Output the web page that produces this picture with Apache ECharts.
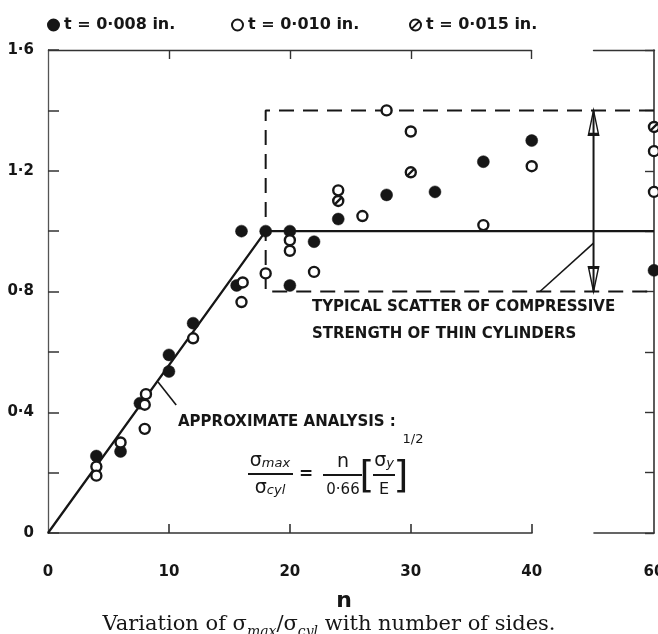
<!DOCTYPE html>
<html>
<head>
<meta charset="utf-8">
<script src="https://cdn.jsdelivr.net/npm/echarts@6/dist/echarts.min.js"></script>
<style>
html,body{margin:0;padding:0;background:#fff;}
#chart{width:658px;height:634px;}
</style>
</head>
<body>
<div id="chart"></div>
<script>
// ---- data ----
const xTickLabels = [0, 10, 20, 30, 40, 60];
const xTickMarks = [10, 20, 30, 40];
const yTickLabels = [0, 0.4, 0.8, 1.2, 1.6];

const seriesNames = ['t = 0·008 in.', 't = 0·010 in.', 't = 0·015 in.'];

// t = 0.008 in. (filled circles)
const t008 = [
  [4, 0.255], [6, 0.27], [7.6, 0.43], [10, 0.59], [10, 0.535], [12, 0.695],
  [15.6, 0.82], [16, 1.0], [18, 1.0], [20, 1.0], [20, 0.82], [22, 0.965],
  [24, 1.04], [28, 1.12], [32, 1.13], [36, 1.23], [40, 1.30], [60, 0.87]
];
// t = 0.010 in. (open circles)
const t010 = [
  [4, 0.22], [4, 0.19], [6, 0.30], [8.1, 0.46], [8, 0.425], [8, 0.345],
  [12, 0.645], [16.1, 0.83], [16, 0.765], [18, 0.86], [20, 0.97], [20, 0.935],
  [22, 0.865], [24, 1.135], [26, 1.05], [28, 1.40], [30, 1.33], [36, 1.02],
  [40, 1.215], [60, 1.265], [60, 1.13]
];
// t = 0.015 in. (slashed circles)
const t015 = [
  [24, 1.10], [30, 1.195], [60, 1.345]
];

// approximate analysis: rising line, then cut off at 1.0
const analysisLine = [[0, 0], [18, 1.0], [60, 1.0]];
// typical scatter band of thin cylinders
const scatterBand = [[60, 1.4], [18, 1.4], [18, 0.8], [60, 0.8]];
const bandArrow = [[55, 1.4], [55, 0.8]];
const approxLeader = [[9.1, 0.5], [10.6, 0.424]];
const scatterLeader = [[55, 0.96], [42, 0.8]];

// ---- chart ----
const INK = '#161616';
const HAND = 'DejaVu Sans';
const slashCircle = 'path://M0,-10 A10,10 0 1,1 0,10 A10,10 0 1,1 0,-10 Z M-7,7 L7,-7';

function fmtY(v) {
  if (Math.abs(v) < 1e-9) return '0';
  return v.toFixed(1).replace('.', '·');
}

const chart = echarts.init(document.getElementById('chart'), null, { renderer: 'canvas' });

const xBreaks = [{ start: 40, end: 55, gap: '10.2%' }];
const breakAreaStyle = {
  show: true,
  itemStyle: { color: 'rgba(255,255,255,0)', borderColor: 'rgba(255,255,255,0)', borderWidth: 0 },
  zigzagAmplitude: 0,
  expandOnClick: false
};
const legendText = { fontFamily: HAND, fontSize: 16, fontWeight: 'bold', color: INK };

const option = {
  animation: false,
  backgroundColor: '#fff',
  title: {
    text: 'Variation of σ{s|max}/σ{s|cyl} with number of sides.',
    left: 'center',
    top: 606,
    textStyle: {
      fontFamily: 'DejaVu Serif',
      fontSize: 21,
      fontWeight: 'normal',
      color: INK,
      lineHeight: 28,
      rich: {
        s: { fontFamily: 'DejaVu Serif', fontSize: 14, fontStyle: 'italic', color: INK, lineHeight: 14, verticalAlign: 'bottom' }
      }
    }
  },
  legend: [
    { data: [seriesNames[0]], left: 42, top: 12, itemWidth: 11, itemHeight: 11, itemGap: 0, textStyle: legendText, selectedMode: false },
    { data: [seriesNames[1]], left: 226, top: 12, itemWidth: 11, itemHeight: 11, itemGap: 0, textStyle: legendText, selectedMode: false },
    { data: [seriesNames[2]], left: 404, top: 12, itemWidth: 11, itemHeight: 11, itemGap: 0, textStyle: legendText, selectedMode: false }
  ],
  grid: { left: 48, right: 4, top: 50, bottom: 101, containLabel: false, outerBoundsMode: 'none' },
  xAxis: [
    {
      type: 'value', min: 0, max: 60, position: 'bottom',
      breaks: xBreaks, breakArea: breakAreaStyle,
      name: 'n', nameLocation: 'middle', nameGap: 57,
      nameTextStyle: { fontFamily: HAND, fontSize: 22, fontWeight: 'bold', color: INK, padding: [0, 14, 0, 0] },
      axisLine: { show: true, onZero: false, lineStyle: { color: '#333', width: 1.6 } },
      axisTick: { show: true, inside: true, length: 9, customValues: xTickMarks, lineStyle: { color: '#333', width: 1.6 } },
      axisLabel: { show: true, margin: 32, customValues: xTickLabels, fontFamily: HAND, fontSize: 15, fontWeight: 'bold', color: INK },
      splitLine: { show: false }
    },
    {
      type: 'value', min: 0, max: 60, position: 'top',
      breaks: xBreaks, breakArea: breakAreaStyle,
      axisLine: { show: true, onZero: false, lineStyle: { color: '#333', width: 1.4 } },
      axisTick: { show: true, inside: true, length: 9, customValues: xTickMarks, lineStyle: { color: '#333', width: 1.4 } },
      axisLabel: { show: false },
      splitLine: { show: false }
    }
  ],
  yAxis: [
    {
      type: 'value', min: 0, max: 1.6, interval: 0.2, position: 'left',
      axisLine: { show: true, onZero: false, lineStyle: { color: '#555', width: 1.3 } },
      axisTick: { show: true, inside: true, length: 11, lineStyle: { color: '#333', width: 1.5 } },
      axisLabel: { show: true, margin: 14, customValues: yTickLabels, formatter: fmtY, fontFamily: HAND, fontSize: 15, fontWeight: 'bold', color: INK },
      splitLine: { show: false }
    },
    {
      type: 'value', min: 0, max: 1.6, interval: 0.2, position: 'right',
      axisLine: { show: true, onZero: false, lineStyle: { color: '#333', width: 1.6 } },
      axisTick: { show: true, inside: true, length: 9, lineStyle: { color: '#333', width: 1.4 } },
      axisLabel: { show: false },
      splitLine: { show: false }
    }
  ],
  series: [
    {
      name: 'analysis', type: 'line', data: analysisLine, symbol: 'none', silent: true, z: 2,
      lineStyle: { color: INK, width: 2.3 }
    },
    {
      name: 'band', type: 'line', data: scatterBand, symbol: 'none', silent: true, z: 2,
      lineStyle: { color: INK, width: 2, type: [15, 9] }
    },
    {
      name: 'arrow', type: 'line', silent: true, z: 3,
      lineStyle: { color: INK, width: 2 },
      showSymbol: true, showAllSymbol: true,
      data: [
        { value: bandArrow[0], symbol: 'path://M5,0 L10,24 L0,24 Z', symbolSize: [10, 24], symbolOffset: [0, 12],
          itemStyle: { color: 'rgba(255,255,255,0)', borderColor: INK, borderWidth: 2, opacity: 1 } },
        { value: bandArrow[1], symbol: 'path://M0,0 L10,0 L5,24 Z', symbolSize: [10, 24], symbolOffset: [0, -12],
          itemStyle: { color: 'rgba(255,255,255,0)', borderColor: INK, borderWidth: 2, opacity: 1 } }
      ]
    },
    {
      name: 'leader1', type: 'line', data: approxLeader, symbol: 'none', silent: true, z: 2,
      lineStyle: { color: INK, width: 1.6 }
    },
    {
      name: 'leader2', type: 'line', data: scatterLeader, symbol: 'none', silent: true, z: 2,
      lineStyle: { color: INK, width: 1.6 }
    },
    {
      name: seriesNames[0], type: 'scatter', data: t008, symbol: 'circle', symbolSize: 12, z: 5,
      itemStyle: { color: INK, borderColor: INK, borderWidth: 0.5, opacity: 1 }
    },
    {
      name: seriesNames[1], type: 'scatter', data: t010, symbol: 'circle', symbolSize: 10, z: 6,
      itemStyle: { color: '#fff', borderColor: INK, borderWidth: 2.4, opacity: 1 }
    },
    {
      name: seriesNames[2], type: 'scatter', data: t015, symbol: slashCircle, symbolSize: 10, z: 6,
      itemStyle: { color: '#fff', borderColor: INK, borderWidth: 2.4, opacity: 1 }
    }
  ],
  graphic: [
    { type: 'text', x: 178, y: 422, style: { text: 'APPROXIMATE ANALYSIS :', fontFamily: HAND, fontSize: 15, fontWeight: 'bold', fill: INK, align: 'left', verticalAlign: 'middle' } },
    { type: 'text', x: 270, y: 461, style: { text: 'σ{s|max}', fontFamily: HAND, fontSize: 19, fill: INK, align: 'center', verticalAlign: 'middle',
        rich: { s: { fontFamily: HAND, fontSize: 13, fontStyle: 'italic', fill: INK, verticalAlign: 'bottom', lineHeight: 12 } } } },
    { type: 'line', shape: { x1: 248, y1: 474, x2: 293, y2: 474 }, style: { stroke: INK, lineWidth: 2 } },
    { type: 'text', x: 270, y: 488, style: { text: 'σ{s|cyl}', fontFamily: HAND, fontSize: 19, fill: INK, align: 'center', verticalAlign: 'middle',
        rich: { s: { fontFamily: HAND, fontSize: 13, fontStyle: 'italic', fill: INK, verticalAlign: 'bottom', lineHeight: 12 } } } },
    { type: 'text', x: 306, y: 475, style: { text: '=', fontFamily: HAND, fontSize: 17, fontWeight: 'bold', fill: INK, align: 'center', verticalAlign: 'middle' } },
    { type: 'text', x: 343, y: 462, style: { text: 'n', fontFamily: HAND, fontSize: 19, fill: INK, align: 'center', verticalAlign: 'middle' } },
    { type: 'line', shape: { x1: 323, y1: 475, x2: 362, y2: 475 }, style: { stroke: INK, lineWidth: 2 } },
    { type: 'text', x: 343, y: 490, style: { text: '0·66', fontFamily: HAND, fontSize: 15, fill: INK, align: 'center', verticalAlign: 'middle' } },
    { type: 'text', x: 367, y: 477, style: { text: '[', fontFamily: HAND, fontSize: 38, fill: INK, align: 'center', verticalAlign: 'middle' } },
    { type: 'text', x: 384, y: 461, style: { text: 'σ{s|y}', fontFamily: HAND, fontSize: 19, fill: INK, align: 'center', verticalAlign: 'middle',
        rich: { s: { fontFamily: HAND, fontSize: 13, fontStyle: 'italic', fill: INK, verticalAlign: 'bottom', lineHeight: 12 } } } },
    { type: 'line', shape: { x1: 373, y1: 475, x2: 395, y2: 475 }, style: { stroke: INK, lineWidth: 2 } },
    { type: 'text', x: 384, y: 490, style: { text: 'E', fontFamily: HAND, fontSize: 16, fill: INK, align: 'center', verticalAlign: 'middle' } },
    { type: 'text', x: 401, y: 477, style: { text: ']', fontFamily: HAND, fontSize: 38, fill: INK, align: 'center', verticalAlign: 'middle' } },
    { type: 'text', x: 413, y: 440, style: { text: '1/2', fontFamily: HAND, fontSize: 13, fill: INK, align: 'center', verticalAlign: 'middle' } },
    { type: 'text', x: 312, y: 307, style: { text: 'TYPICAL SCATTER OF COMPRESSIVE', fontFamily: HAND, fontSize: 15, fontWeight: 'bold', fill: INK, align: 'left', verticalAlign: 'middle' } },
    { type: 'text', x: 312, y: 334, style: { text: 'STRENGTH OF THIN CYLINDERS', fontFamily: HAND, fontSize: 15, fontWeight: 'bold', fill: INK, align: 'left', verticalAlign: 'middle' } }
  ]
};

chart.setOption(option);
</script>
</body>
</html>
